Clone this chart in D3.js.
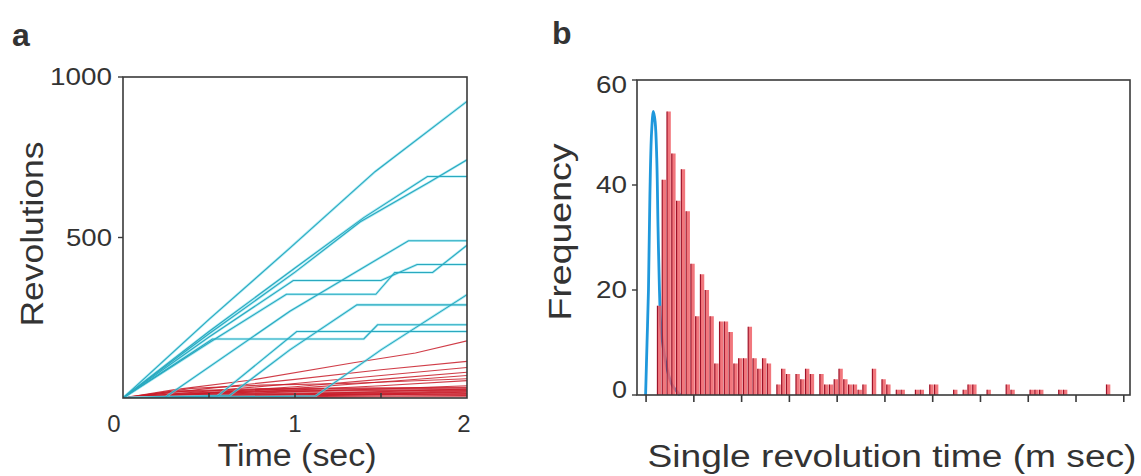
<!DOCTYPE html>
<html><head><meta charset="utf-8">
<script src="https://cdn.jsdelivr.net/npm/d3@7"></script>
<style>
body{margin:0;background:#fff}
text{font-family:"Liberation Sans",Arial,Helvetica,sans-serif;fill:#333}
</style>
</head><body>
<svg id="chart" width="1141" height="476"></svg>
<script>
// ---------- Panel a data: revolutions vs time ----------
const timeTickLabels = [0, 1, 2];
const timeInnerTicks = [0.5, 1, 1.5];
const revTickLabels = [500, 1000];

// fast motors (cyan) – [time (s), revolutions]
const cyanA = [[0,0],[0.5,245],[0.97,467],[1.465,705],[2,924]];
const cyanB = [[0,0],[0.5,200],[1,392],[1.38,549],[1.78,672],[2,742]];
const cyanC = [[0,0],[0.5,207],[1,405],[1.4,562],[1.77,690],[2,690]];
const cyanD = [[0,0],[0.5,190],[0.99,366],[1.5,366],[1.71,416],[2,416]];
const cyanE = [[0,0],[0.5,172],[0.95,323],[1.47,323],[1.58,391],[1.8,391],[2,476]];
const cyanF = [[0,0],[0.52,184],[1.4,184],[1.48,228],[2,228]];
const cyanG = [[0,0],[0.25,4],[0.97,270],[1.66,490],[2,490]];
const cyanH = [[0,0],[0.55,6],[1.01,207],[2,207]];
const cyanI = [[0,0],[0.62,8],[0.97,150],[1.36,290],[2,290]];
const cyanJ = [[0,0],[1.12,6],[1.5,150],[2,322]];
const cyanTraces = [cyanA, cyanB, cyanC, cyanD, cyanE, cyanF, cyanG, cyanH, cyanI, cyanJ];

// slow motors (red)
const red1 = [[0,0],[0.3,26],[0.76,57],[1.34,110],[1.7,140],[2,178]];
const red2 = [[0,0],[0.5,30],[1,58],[1.5,88],[2,114]];
const red3 = [[0,0],[0.5,22],[1,45],[1.5,70],[2,95]];
const red4 = [[0,0],[0.6,20],[1,35],[1.5,58],[2,80]];
const red5 = [[0,0],[0.5,15],[1,30],[1.5,50],[2,70]];
const red6 = [[0,0],[0.5,12],[1,25],[1.5,38],[2,54]];
const red7 = [[0,0],[0.5,10],[1,20],[1.5,28],[2,38]];
const red8 = [[0,0],[0.5,6],[1,12],[1.5,20],[2,28]];
const red9 = [[0,0],[0.5,4],[1,9],[1.5,13],[2,18]];
const red10 = [[0,0],[0.5,2],[1,4],[1.5,6],[2,8]];
const red11 = [[0,0],[0.5,3],[1,6],[1.5,10],[2,14]];
const red12 = [[0,0],[0.5,1],[1,2],[1.5,3],[2,4]];
const red13 = [[0,0],[0.4,30],[0.8,40],[1.3,45],[2,60]];
const red14 = [[0,0],[0.3,20],[0.8,28],[2,32]];
const red15 = [[0,0],[0.35,14],[0.9,22],[1.6,24],[2,25]];
const red16 = [[0,0],[0.4,9],[0.9,14],[1.5,16],[2,20]];
const red17 = [[0,0],[0.5,7],[1.1,9],[1.6,12],[2,11]];
const redTraces = [red1, red2, red3, red4, red5, red6, red7, red8, red9, red10, red11, red12, red13, red14, red15, red16, red17];

// ---------- Panel b data: histogram of single revolution time ----------
const histTicks = [0,1,2,3,4,5,6,7,8,9,10];
const freqTickLabels = [0, 20, 40, 60];
const binStart = 0.28;   // centre of first bin (axis units)
const binWidth = 0.1;
const slowFreq = [17,41,54,46,37,43,35,25,15,23,20,15,6,14,14,12,6,7,7,13,
                  7,5,7,6,0,2,5,4,0,4,3,5,4,0,4,2,2,3,5,3,
                  2,2,1,2,0,5,0,3,2,0,1,1,0,0,1,1,0,2,2,0,
                  0,0,1,0,1,2,2,0,0,1,0,0,0,2,1,0,0,0,1,1,
                  1,0,0,0,1,1,0,0,0,0,0,0,0,0,2];
// fast motors distribution (blue curve): [time, frequency]
const fastX = [-0.01,0.02,0.05,0.08,0.115,0.153,0.19,0.224,0.25,0.28,0.31,0.36,0.44,0.54,0.71];
const fastY = [0,10,20,38,50,54,52,45,32,20,13,9,5,2,0];

// ---------- drawing ----------
const svg = d3.select("#chart");
const frameColor = "#3a3a3a";
const tickFont = 24;

function addText(g, str, x, y, opts) {
  const t = g.append("text").attr("x", x).attr("y", y).text(str)
    .attr("font-size", opts.size || tickFont)
    .attr("text-anchor", opts.anchor || "middle");
  if (opts.bold) t.attr("font-weight", "bold");
  if (opts.len) t.attr("textLength", opts.len).attr("lengthAdjust", "spacingAndGlyphs");
  if (opts.rotate) t.attr("transform", `rotate(${opts.rotate},${x},${y})`);
  return t;
}

// ===== Panel a =====
const ax = d3.scaleLinear().domain([0, 2]).range([123, 467]);
const ay = d3.scaleLinear().domain([0, 1000]).range([398, 77]);
const ga = svg.append("g");
ga.append("clipPath").attr("id", "clipA").append("rect")
  .attr("x", 123).attr("y", 77).attr("width", 344).attr("height", 321);
const lineA = d3.line().x(d => ax(d[0])).y(d => ay(d[1]));
const plotA = ga.append("g").attr("clip-path", "url(#clipA)");
plotA.selectAll("path.red").data(redTraces).join("path")
  .attr("class", "red").attr("d", lineA).attr("fill", "none")
  .attr("stroke", "#c81b28").attr("stroke-width", (d, i) => i >= 13 ? 2 : 1.1).attr("stroke-opacity", 0.85);
plotA.selectAll("path.cyanhalo").data(cyanTraces).join("path")
  .attr("class", "cyanhalo").attr("d", lineA).attr("fill", "none")
  .attr("stroke", "#7ee0ef").attr("stroke-width", 2.6).attr("stroke-opacity", 0.6);
plotA.selectAll("path.cyan").data(cyanTraces).join("path")
  .attr("class", "cyan").attr("d", lineA).attr("fill", "none")
  .attr("stroke", "#2aa9bf").attr("stroke-width", 1.1);

// frame
ga.append("rect").attr("x", 123).attr("y", 77).attr("width", 344).attr("height", 321)
  .attr("fill", "none").attr("stroke", frameColor).attr("stroke-width", 1.6);
ga.selectAll("line.yt").data(revTickLabels).join("line").attr("class", "yt")
  .attr("x1", 118).attr("x2", 123).attr("y1", d => ay(d)).attr("y2", d => ay(d))
  .attr("stroke", frameColor).attr("stroke-width", 1.4);
revTickLabels.forEach(v => addText(ga, String(v), 112, ay(v) + 8, {anchor: "end", len: v === 1000 ? 62 : 46}));
ga.selectAll("line.xt").data(timeInnerTicks).join("line").attr("class", "xt")
  .attr("x1", d => ax(d)).attr("x2", d => ax(d)).attr("y1", 398).attr("y2", 393)
  .attr("stroke", frameColor).attr("stroke-width", 1.6);
timeTickLabels.forEach(v => addText(ga, String(v), ax(v) + (v === 0 ? -9 : (v === 2 ? -3 : 0)), 432, {}));
addText(ga, "Time (sec)", 297, 466, {size: 31, len: 159});
addText(ga, "Revolutions", 43, 234, {size: 32, len: 185, rotate: -90});
addText(ga, "a", 12, 46, {size: 32, bold: true, anchor: "start"});

// ===== Panel b =====
const bx = d3.scaleLinear().domain([-0.19, 10.13]).range([637, 1130]);
const by = d3.scaleLinear().domain([0, 60]).range([395, 80]);
const gb = svg.append("g");
const fastPts = fastX.map((x, i) => [x, fastY[i]]);
gb.append("path").datum(fastPts)
  .attr("d", d3.line().x(d => bx(d[0])).y(d => by(d[1])).curve(d3.curveCatmullRom))
  .attr("fill", "none").attr("stroke", "#1f98dc").attr("stroke-width", 2.8);

const bins = slowFreq.map((f, i) => ({c: binStart + i * binWidth, f}));
const barW = bx(binWidth) - bx(0);
const barsG = gb.append("g");
barsG.selectAll("rect").data(bins.filter(d => d.f > 0)).join("rect")
  .attr("x", d => bx(d.c) - barW * 0.42).attr("width", barW * 0.8)
  .attr("y", d => by(d.f)).attr("height", d => by(0) - by(d.f))
  .attr("fill", "#ef5f66").attr("fill-opacity", 0.85);
barsG.selectAll("line").data(bins.filter(d => d.f > 0)).join("line")
  .attr("x1", d => bx(d.c) - barW * 0.42).attr("x2", d => bx(d.c) - barW * 0.42)
  .attr("y1", d => by(d.f)).attr("y2", by(0))
  .attr("stroke", "#9e1228").attr("stroke-width", 1.2);

gb.append("rect").attr("x", 637).attr("y", 80).attr("width", 493).attr("height", 315)
  .attr("fill", "none").attr("stroke", frameColor).attr("stroke-width", 1.6);
gb.selectAll("line.yt").data(freqTickLabels).join("line").attr("class", "yt")
  .attr("x1", 632).attr("x2", 637).attr("y1", d => by(d)).attr("y2", d => by(d))
  .attr("stroke", frameColor).attr("stroke-width", 1.4);
freqTickLabels.forEach(v => addText(gb, String(v), 627, by(v) + (v === 0 ? 3 : (v === 60 ? 13 : 8)), {anchor: "end", len: v === 0 ? 15 : 31}));
gb.selectAll("line.xt").data(histTicks).join("line").attr("class", "xt")
  .attr("x1", d => bx(d)).attr("x2", d => bx(d)).attr("y1", 395).attr("y2", 402)
  .attr("stroke", frameColor).attr("stroke-width", 1.6);
addText(gb, "Single revolution time (m sec)", 892, 467, {size: 31, len: 489});
addText(gb, "Frequency", 571, 232, {size: 31, len: 177, rotate: -90});
addText(gb, "b", 552, 44, {size: 32, bold: true, anchor: "start"});
</script>
</body></html>
